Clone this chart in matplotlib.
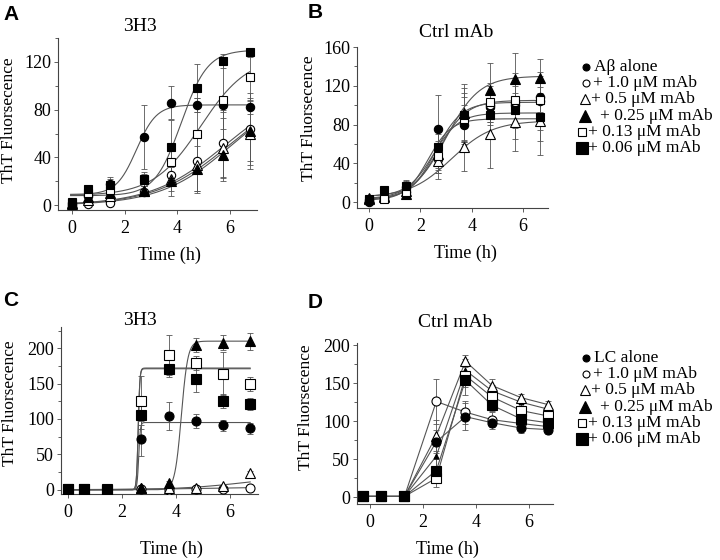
import numpy as np
import matplotlib.pyplot as plt
from matplotlib.ticker import MultipleLocator

plt.rcParams['font.family'] = ['Liberation Serif', 'DejaVu Serif']

# series order: alone, 1.0, 0.5, 0.25, 0.13, 0.06 uM mAb
markers = ['o', 'o', '^', '^', 's', 's']
filled = [True, False, False, True, False, True]

# ---- panel A: 3H3 with Abeta ----
a_time = [0, 0.6, 1.45, 2.75, 3.75, 4.75, 5.75, 6.75]
a_y = [[2, 8, 18, 57, 86, 84, 84, 82],
       [0, 1, 2, 11, 25, 37, 52, 64],
       [1, 4, 8, 12, 22, 34, 48, 60],
       [2, 7, 10, 12, 20, 30, 42, 62],
       [3, 10, 13, 21, 36, 60, 88, 107],
       [2, 14, 17, 22, 49, 98, 121, 128]]
a_err = [[1, 2, 6, 27, 14, 6, 6, 6],
         [1, 1, 2, 3, 8, 25, 28, 30],
         [1, 2, 3, 4, 10, 22, 25, 30],
         [1, 2, 3, 4, 12, 20, 22, 25],
         [1, 2, 4, 5, 12, 30, 35, 25],
         [2, 3, 5, 6, 22, 20, 6, 4]]
# sigmoid fits: base, top, midpoint, slope
a_fit = [[9, 84, 2.45, 0.38],
         [0, 100, 5.8, 1.4],
         [0, 100, 5.95, 1.4],
         [0, 100, 6.05, 1.35],
         [8, 125, 4.9, 0.9],
         [8, 130, 4.15, 0.5]]

# ---- panel B: control mAb with Abeta ----
b_time = [0, 0.6, 1.45, 2.7, 3.7, 4.7, 5.7, 6.65]
b_y = [[0, 4, 16, 75, 80, 98, 100, 108],
       [2, 4, 10, 45, 88, 100, 103, 104],
       [3, 5, 12, 42, 57, 70, 83, 84],
       [4, 6, 8, 50, 92, 116, 127, 128],
       [2, 3, 10, 48, 86, 103, 105, 105],
       [3, 13, 17, 57, 90, 90, 95, 88]]
b_err = [[2, 3, 6, 35, 20, 15, 20, 15],
         [2, 3, 4, 15, 25, 20, 25, 30],
         [2, 3, 4, 18, 25, 35, 30, 35],
         [2, 3, 4, 20, 30, 28, 27, 20],
         [2, 3, 4, 15, 22, 20, 28, 25],
         [2, 4, 6, 22, 28, 25, 30, 25]]
b_fit = [[2, 86, 2.3, 0.45],
         [3, 105, 2.7, 0.55],
         [5, 84, 3.2, 0.8],
         [3, 130, 3.0, 0.65],
         [3, 103, 2.6, 0.5],
         [6, 92, 2.5, 0.5]]

# ---- panel C: 3H3 with LC ----
c_time = [0, 0.6, 1.45, 2.7, 3.75, 4.75, 5.75, 6.75]
c_y = [[0, 0, -1, 72, 104, 97, 91, 87],
       [0, 0, 0, 1, 0, 1, 1, 3],
       [1, 1, 1, 3, 3, 3, 5, 23],
       [0, 0, 0, 2, 9, 205, 208, 210],
       [1, 1, 1, 126, 190, 179, 164, 149],
       [1, 1, 0, 106, 171, 156, 125, 121]]
c_err = [[2, 2, 2, 25, 20, 10, 8, 8],
         [1, 1, 1, 1, 1, 1, 1, 1],
         [1, 1, 1, 1, 1, 1, 1, 3],
         [1, 1, 1, 2, 3, 10, 10, 12],
         [1, 1, 1, 35, 28, 10, 30, 10],
         [1, 1, 1, 20, 12, 18, 10, 8]]
c_fit = [[0, 95, 2.62, 0.03],
         [0, 5, 6.0, 2.0],
         [0, 20, 6.5, 1.2],
         [0, 210, 4.2, 0.12],
         [0, 172, 2.6, 0.03],
         [0, 171, 2.6, 0.03]]

# ---- panel D: control mAb with LC ----
d_time = [-0.25, 0.4, 1.3, 2.5, 3.6, 4.6, 5.7, 6.7]
d_y = [[1, 1, 1, 73, 106, 98, 91, 89],
       [1, 1, 1, 126, 112, 102, 97, 93],
       [1, 1, 1, 81, 179, 147, 131, 122],
       [1, 1, 1, 54, 167, 140, 125, 116],
       [1, 1, 1, 25, 160, 132, 114, 107],
       [1, 1, 1, 35, 154, 121, 103, 98]]
d_err = [[2, 2, 2, 15, 18, 8, 6, 6],
         [2, 2, 2, 30, 15, 10, 6, 5],
         [2, 2, 2, 20, 8, 8, 5, 5],
         [2, 2, 2, 15, 15, 8, 5, 5],
         [2, 2, 2, 12, 15, 8, 6, 5],
         [2, 2, 2, 15, 20, 8, 6, 6]]

b_labels = [u'A\u03b2 alone', u'+ 1.0 \u03bcM mAb', u'+ 0.5 \u03bcM mAb',
            u'+ 0.25 \u03bcM mAb', u'+ 0.13 \u03bcM mAb', u'+ 0.06 \u03bcM mAb']
d_labels = ['LC alone'] + b_labels[1:]

W, H = 720, 560
fig = plt.figure(figsize=(7.2, 5.6), dpi=100)


def px_axes(l, t, r, b):
    return fig.add_axes([l / W, 1 - b / H, (r - l) / W, (b - t) / H])


def sigmoid(x, base, top, mid, k):
    return base + (top - base) / (1 + np.exp((mid - x) / k))


def draw(ax, t, ys, errs, fits, ms, order=range(6), small_tri=False):
    t = np.array(t)
    for i in range(6):
        if fits is not None:
            xf = np.linspace(t[0] - 0.05, t[-1], 800)
            ax.plot(xf, sigmoid(xf, *fits[i]), color='#555555', lw=0.8, zorder=2)
        else:
            ax.plot(t, ys[i], color='#555555', lw=0.8, zorder=2)
    for i in range(6):
        ax.errorbar(t, ys[i], yerr=errs[i], fmt='none', ecolor='#555555',
                    elinewidth=0.6, capsize=2, capthick=0.6, zorder=3)
    for i in order:
        size = ms + (1 if markers[i] == '^' else 0)
        if small_tri and i == 3:
            size = 3.5
        ax.plot(t, ys[i], ls='none', marker=markers[i], ms=size,
                mfc='black' if filled[i] else 'white', mec='black', mew=0.8,
                zorder=4)


def style(ax, xlim, ylim, ymaj, ymin):
    ax.set_xlim(*xlim)
    ax.set_ylim(*ylim)
    for s in ['top', 'right']:
        ax.spines[s].set_visible(False)
    for s in ['left', 'bottom']:
        ax.spines[s].set_color('#444444')
        ax.spines[s].set_linewidth(0.8)
    ax.set_xticks([0, 2, 4, 6])
    ax.yaxis.set_major_locator(MultipleLocator(ymaj))
    ax.yaxis.set_minor_locator(MultipleLocator(ymin))
    ax.tick_params(axis='both', which='major', direction='out', length=3,
                   width=0.6, color='#444444', labelsize=13, pad=2)
    ax.tick_params(axis='y', which='minor', direction='out', length=2,
                   width=0.6, color='#444444')
    ax.tick_params(axis='x', pad=4)


def labels(ax, title, tpos, xl, yl):
    ax.text(tpos[0], tpos[1], title, transform=ax.transAxes, ha='center',
            va='center', fontsize=14)
    ax.set_xlabel('Time (h)', fontsize=13)
    ax.xaxis.set_label_coords(*xl)
    ax.set_ylabel('ThT Fluorsecence', fontsize=12.5)
    ax.yaxis.set_label_coords(*yl)


ax_a = px_axes(58, 38, 257, 210)
draw(ax_a, a_time, a_y, a_err, a_fit, 6)
style(ax_a, (-0.53, 7.03), (-4, 140), 40, 20)
labels(ax_a, '3H3', (0.41, 1.064), (0.56, -0.215), (-0.205, 0.52))

ax_b = px_axes(357, 47, 548, 208)
draw(ax_b, b_time, b_y, b_err, b_fit, 6)
style(ax_b, (-0.47, 6.97), (-6, 160), 40, 20)
labels(ax_b, 'Ctrl mAb', (0.52, 1.093), (0.57, -0.23), (-0.209, 0.56))

ax_c = px_axes(61, 327, 258, 494)
draw(ax_c, c_time, c_y, c_err, c_fit, 6.5)
style(ax_c, (-0.26, 7.04), (-6, 230), 50, 25)
labels(ax_c, '3H3', (0.40, 1.036), (0.56, -0.28), (-0.22, 0.545))

ax_d = px_axes(357, 343, 553, 504)
draw(ax_d, d_time, d_y, d_err, None, 6.5, order=[3, 2, 4, 1, 5, 0],
     small_tri=True)
style(ax_d, (-0.49, 6.9), (-9, 203), 50, 25)
labels(ax_d, 'Ctrl mAb', (0.50, 1.13), (0.46, -0.23), (-0.219, 0.60))

# panel letters
for letter, (x, y) in zip('ABCD', [(3, 14), (308, 12), (3, 300), (308, 302)]):
    fig.text(x / W, 1 - y / H, letter, fontsize=15, fontweight='bold',
             family='Liberation Sans', ha='left', va='center')

# legends drawn on an overlay axes in pixel units
leg = fig.add_axes([0, 0, 1, 1])
leg.set_xlim(0, W)
leg.set_ylim(H, 0)
leg.axis('off')
leg_ms = [5, 5, 6.5, 8.5, 5.5, 8]
leg_mx = [586, 586, 585, 585, 582, 582]
leg_tx = [594, 593, 591, 600, 588, 588]
for labs, top in [(b_labels, 67), (d_labels, 358)]:
    for i in range(6):
        row = top + 16.2 * i
        leg.plot([leg_mx[i]], [row], ls='none', marker=markers[i],
                 ms=leg_ms[i], mfc='black' if filled[i] else 'white',
                 mec='black', mew=0.8)
        leg.text(leg_tx[i], row, labs[i], fontsize=12.5, ha='left',
                 va='center')

fig.savefig('out.png', dpi=100)
